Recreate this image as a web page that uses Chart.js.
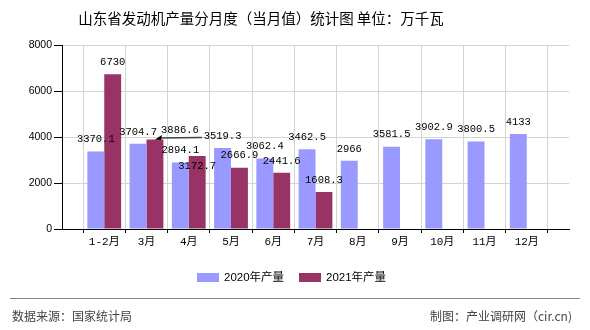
<!DOCTYPE html>
<html>
<head>
<meta charset="utf-8">
<script src="https://cdn.jsdelivr.net/npm/chart.js@4.4.1/dist/chart.umd.min.js"></script>
<style>
  body { margin: 0; background: #fff; }
  canvas { display: block; }
</style>
</head>
<body>
<canvas id="chart" width="590" height="330"></canvas>
<script>
// data
const months = ["1-2月", "3月", "4月", "5月", "6月", "7月", "8月", "9月", "10月", "11月", "12月"];
const output2020 = [3370.1, 3704.7, 2894.1, 3519.3, 3062.4, 3462.5, 2966, 3581.5, 3902.9, 3800.5, 4133];
const output2021 = [6730, 3886.6, 3172.7, 2666.9, 2441.6, 1608.3, null, null, null, null, null];
const yTicks = [0, 2000, 4000, 6000, 8000];

const title = "山东省发动机产量分月度（当月值）统计图 单位：万千瓦";
const source = "数据来源：国家统计局";
const credit = "制图：产业调研网（cir.cn)";

// empty slot at each end, like the original axis
const labels = ["", ...months, ""];
const pad = arr => [null, ...arr, null];

const CJK = "'Noto Sans CJK SC'";

// label nudges for the few values that were placed off-centre
const labelShift = {
  "1-1": { dx: 25, dy: 3, leader: true },
  "1-2": { dx: 0, dy: 22 }
};

const decor = {
  id: "decor",
  afterDatasetsDraw(chart) {
    const ctx = chart.ctx;
    ctx.save();
    ctx.font = "10.5px 'Liberation Mono', monospace";
    ctx.fillStyle = "#000";
    ctx.textAlign = "center";
    ctx.textBaseline = "middle";
    chart.data.datasets.forEach((ds, di) => {
      chart.getDatasetMeta(di).data.forEach((bar, i) => {
        const v = ds.data[i];
        if (v == null) return;
        const s = labelShift[di + "-" + (i - 1)] || { dx: 0, dy: 0 };
        if (s.leader) {
          ctx.strokeStyle = "#444";
          ctx.lineWidth = 1.5;
          ctx.beginPath();
          ctx.moveTo(bar.x + 4, bar.y - 1.5);
          ctx.lineTo(bar.x + 47, bar.y - 2);
          ctx.stroke();
          ctx.fillStyle = "#000";
          ctx.beginPath();
          ctx.moveTo(bar.x, bar.y);
          ctx.lineTo(bar.x + 7, bar.y - 4.5);
          ctx.lineTo(bar.x + 6, bar.y + 0.5);
          ctx.closePath();
          ctx.fill();
        }
        ctx.fillText(String(v), bar.x + s.dx, bar.y - 12 + s.dy);
      });
    });
    ctx.restore();
  },
  afterDraw(chart) {
    const ctx = chart.ctx;
    ctx.save();
    ctx.fillStyle = "#000";
    ctx.textBaseline = "middle";
    ctx.textAlign = "center";
    ctx.font = "14.5px " + CJK;
    ctx.fillText(title, 261, 18);

    // legend
    ctx.textAlign = "left";
    ctx.font = "11.5px 'Liberation Sans', " + CJK;
    let lx = 197;
    chart.data.datasets.forEach(ds => {
      ctx.fillStyle = ds.backgroundColor;
      ctx.fillRect(lx, 273, 22, 9);
      ctx.fillStyle = "#000";
      ctx.fillText(ds.label, lx + 27, 278);
      lx += 102;
    });

    // footer
    ctx.strokeStyle = "#888";
    ctx.lineWidth = 1;
    ctx.beginPath();
    ctx.moveTo(10, 298.5);
    ctx.lineTo(580, 298.5);
    ctx.stroke();
    ctx.fillStyle = "#444";
    ctx.font = "12px " + CJK;
    ctx.fillText(source, 12, 316);
    ctx.textAlign = "right";
    ctx.fillText(credit, 572, 316);
    ctx.restore();
  }
};

new Chart(document.getElementById("chart"), {
  type: "bar",
  data: {
    labels,
    datasets: [
      { label: "2020年产量", data: pad(output2020), backgroundColor: "#9999ff" },
      { label: "2021年产量", data: pad(output2021), backgroundColor: "#993366" }
    ]
  },
  options: {
    responsive: false,
    animation: false,
    devicePixelRatio: 1,
    layout: { padding: { top: 45, right: 21, bottom: 71, left: 0 } },
    datasets: { bar: { categoryPercentage: 0.8, barPercentage: 1 } },
    plugins: { legend: { display: false }, title: { display: false }, tooltip: { enabled: false } },
    scales: {
      x: {
        offset: false,
        grid: { color: "#d3d3d3", tickColor: "#000", tickLength: 4 },
        border: { color: "#000", width: 1 },
        ticks: {
          color: "#000",
          font: { family: "'Liberation Mono', " + CJK, size: 11 },
          padding: 2,
          maxRotation: 0,
          autoSkip: false
        },
        afterFit: s => { s.height = 30; }
      },
      y: {
        min: 0,
        max: 8000,
        afterBuildTicks: s => { s.ticks = yTicks.map(v => ({ value: v })); },
        grid: { color: "#d3d3d3", tickColor: "#000", tickLength: 8 },
        border: { color: "#000", width: 1 },
        ticks: {
          color: "#000",
          font: { family: "'Liberation Sans'", size: 10.5 },
          padding: 2,
          callback: v => String(v)
        },
        afterFit: s => { s.width = 62; }
      }
    }
  },
  plugins: [decor]
});
</script>
</body>
</html>
